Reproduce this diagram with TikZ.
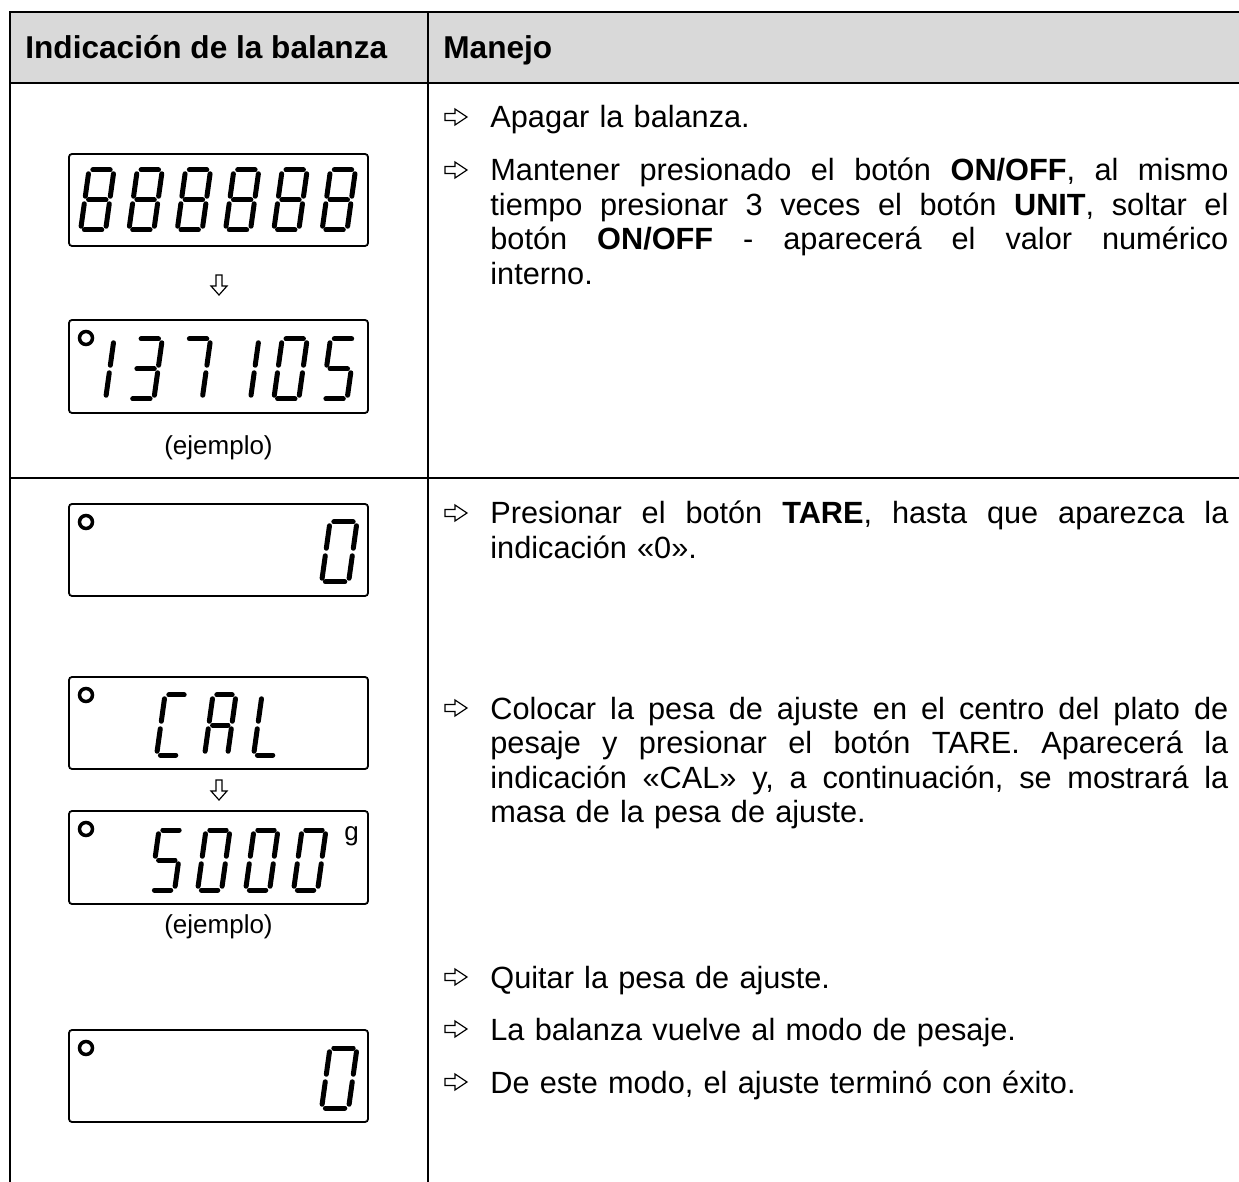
\documentclass[tikz,border=0pt]{standalone}
\usepackage{fontspec}
\setmainfont{Liberation Sans}
\definecolor{headgray}{HTML}{D9D9D9}

% segments of the seven-segment digits
\def\dgEight{tl/tr,tr/mr,mr/br,bl/br,ml/bl,tl/ml,ml/mr}
\def\dgZero{tl/tr,tr/mr,mr/br,bl/br,ml/bl,tl/ml}
\def\dgOne{tr/mr,mr/br}
\def\dgThree{tl/tr,tr/mr,mr/br,bl/br,ml/mr}
\def\dgSeven{tl/tr,tr/mr,mr/br}
\def\dgFive{tl/tr,tl/ml,ml/mr,mr/br,bl/br}
\def\dgC{tl/tr,tl/ml,ml/bl,bl/br}
\def\dgA{tl/tr,tr/mr,mr/br,ml/bl,tl/ml,ml/mr}
\def\dgL{tl/ml,ml/bl,bl/br}

\newcommand\lcd[4][25]{%
  \begin{scope}[shift={(#2,#3)},xslant=0.14]
    \coordinate (tl) at (0,0);  \coordinate (tr) at (#1,0);
    \coordinate (ml) at (0,30); \coordinate (mr) at (#1,30);
    \coordinate (bl) at (0,60); \coordinate (br) at (#1,60);
    \edef\lcdsegs{#4}%
    \foreach \p/\q in \lcdsegs {\draw[seg] (\p) -- (\q);}
  \end{scope}}

% one justified line of the right column
\newcommand\jline[1]{\makebox[369pt][s]{\frenchspacing
  \spaceskip=\fontdimen2\font plus 1fil\relax #1}}

\tikzset{
  frame/.style={line width=1.1pt},
  lcdbox/.style={line width=0.9pt, rounded corners=1.5pt},
  seg/.style={line width=2.5pt, line cap=round, shorten <=1.9pt, shorten >=1.9pt},
  dot/.style={line width=1.75pt},
  head/.style={anchor=base west, inner sep=0pt, font=\fontsize{15.8}{17.5}\selectfont\bfseries},
  item/.style={anchor=base west, inner sep=0pt, text width=369pt, align=left,
    font=\fontsize{15.35}{17.25}\selectfont},
  note/.style={anchor=base, inner sep=0pt, font=\fontsize{13}{15}\selectfont},
  bularrow/.pic={\draw[line width=0.6pt] (-11,-3.5) -- (-1,-3.5) -- (-1,-8) -- (11,0)
    -- (-1,8) -- (-1,3.5) -- (-11,3.5) -- cycle;},
  downarrow/.pic={\draw[line width=0.6pt] (-3,-10) -- (3,-10) -- (3,1) -- (8,1)
    -- (0,10) -- (-8,1) -- (-3,1) -- cycle;}
}

\begin{document}
\begin{tikzpicture}[x=0.5pt,y=-0.5pt]
  \path[use as bounding box, clip] (0,0) rectangle (1239,1182);

  % table
  \fill[headgray] (10,12) rectangle (1250,83);
  \draw[frame] (1250,12) -- (10,12) -- (10,1190);
  \draw[frame] (10,83) -- (1250,83);
  \draw[frame] (10,478) -- (1250,478);
  \draw[frame] (428,12) -- (428,1190);
  \node[head] (hdisp) at (25,58.5) {Indicación de la balanza};
  \node[head] (hman) at (443,58.5) {Manejo};

  % first row: displays
  \draw[lcdbox] (69,154) rectangle (368,246);
  \foreach \i in {0,...,5} {\lcd{89+48.3*\i}{170}{\dgEight}}
  \pic at (219,285) {downarrow};
  \draw[lcdbox] (69,320) rectangle (368,413);
  \draw[dot] (86,338) circle[radius=3.25pt];
  \lcd{89}{339}{\dgOne}
  \lcd{137.3}{339}{\dgThree}
  \lcd{185.6}{339}{\dgSeven}
  \lcd{233.9}{339}{\dgOne}
  \lcd{282.2}{339}{\dgZero}
  \lcd{330.5}{339}{\dgFive}
  \node[note] (ex1) at (218.5,455) {(ejemplo)};

  % second row: displays
  \draw[lcdbox] (69,504) rectangle (368,596);
  \draw[dot] (86,522) circle[radius=3.25pt];
  \lcd[27]{330}{522}{\dgZero}

  \draw[lcdbox] (69,677) rectangle (368,769);
  \draw[dot] (86,695) circle[radius=3.25pt];
  \lcd[23]{165}{695}{\dgC}
  \lcd[23]{213}{695}{\dgA}
  \lcd[23]{262}{695}{\dgL}
  \pic at (219,790) {downarrow};
  \draw[lcdbox] (69,811) rectangle (368,904);
  \draw[dot] (86,829) circle[radius=3.25pt];
  \lcd[24]{159}{830}{\dgFive}
  \lcd[24]{206}{830}{\dgZero}
  \lcd[24]{254}{830}{\dgZero}
  \lcd[24]{302}{830}{\dgZero}
  \node[note, anchor=base west] (unit) at (344,841) {g};
  \node[note] (ex2) at (218.5,933) {(ejemplo)};

  \draw[lcdbox] (69,1030) rectangle (368,1122);
  \draw[dot] (86,1048) circle[radius=3.25pt];
  \lcd[27]{330}{1048}{\dgZero}

  % right column
  \node[item] (m1) at (490,128) {Apagar la balanza.};
  \node[item] (m2) at (490,181) {\jline{Mantener presionado el botón \textbf{ON/OFF}, al mismo}\\
    \jline{tiempo presionar 3 veces el botón \textbf{UNIT}, soltar el}\\
    \jline{botón \textbf{ON/OFF} - aparecerá el valor numérico}\\
    interno.};
  \node[item] (m3) at (490,524) {\jline{Presionar el botón \textbf{TARE}, hasta que aparezca la}\\
    indicación «0».};
  \node[item] (m4) at (490,719) {\jline{Colocar la pesa de ajuste en el centro del plato de}\\
    \jline{pesaje y presionar el botón TARE. Aparecerá la}\\
    \jline{indicación «CAL» y, a continuación, se mostrará la}\\
    masa de la pesa de ajuste.};
  \node[item] (m5) at (490,988) {Quitar la pesa de ajuste.};
  \node[item] (m6) at (490,1040) {La balanza vuelve al modo de pesaje.};
  \node[item] (m7) at (490,1093) {De este modo, el ajuste terminó con éxito.};
  \foreach \n in {m1,m2,m3,m4,m5,m6,m7}
    \pic at ([shift={(-34,-11)}]\n.base west) {bularrow};
\end{tikzpicture}
\end{document}
